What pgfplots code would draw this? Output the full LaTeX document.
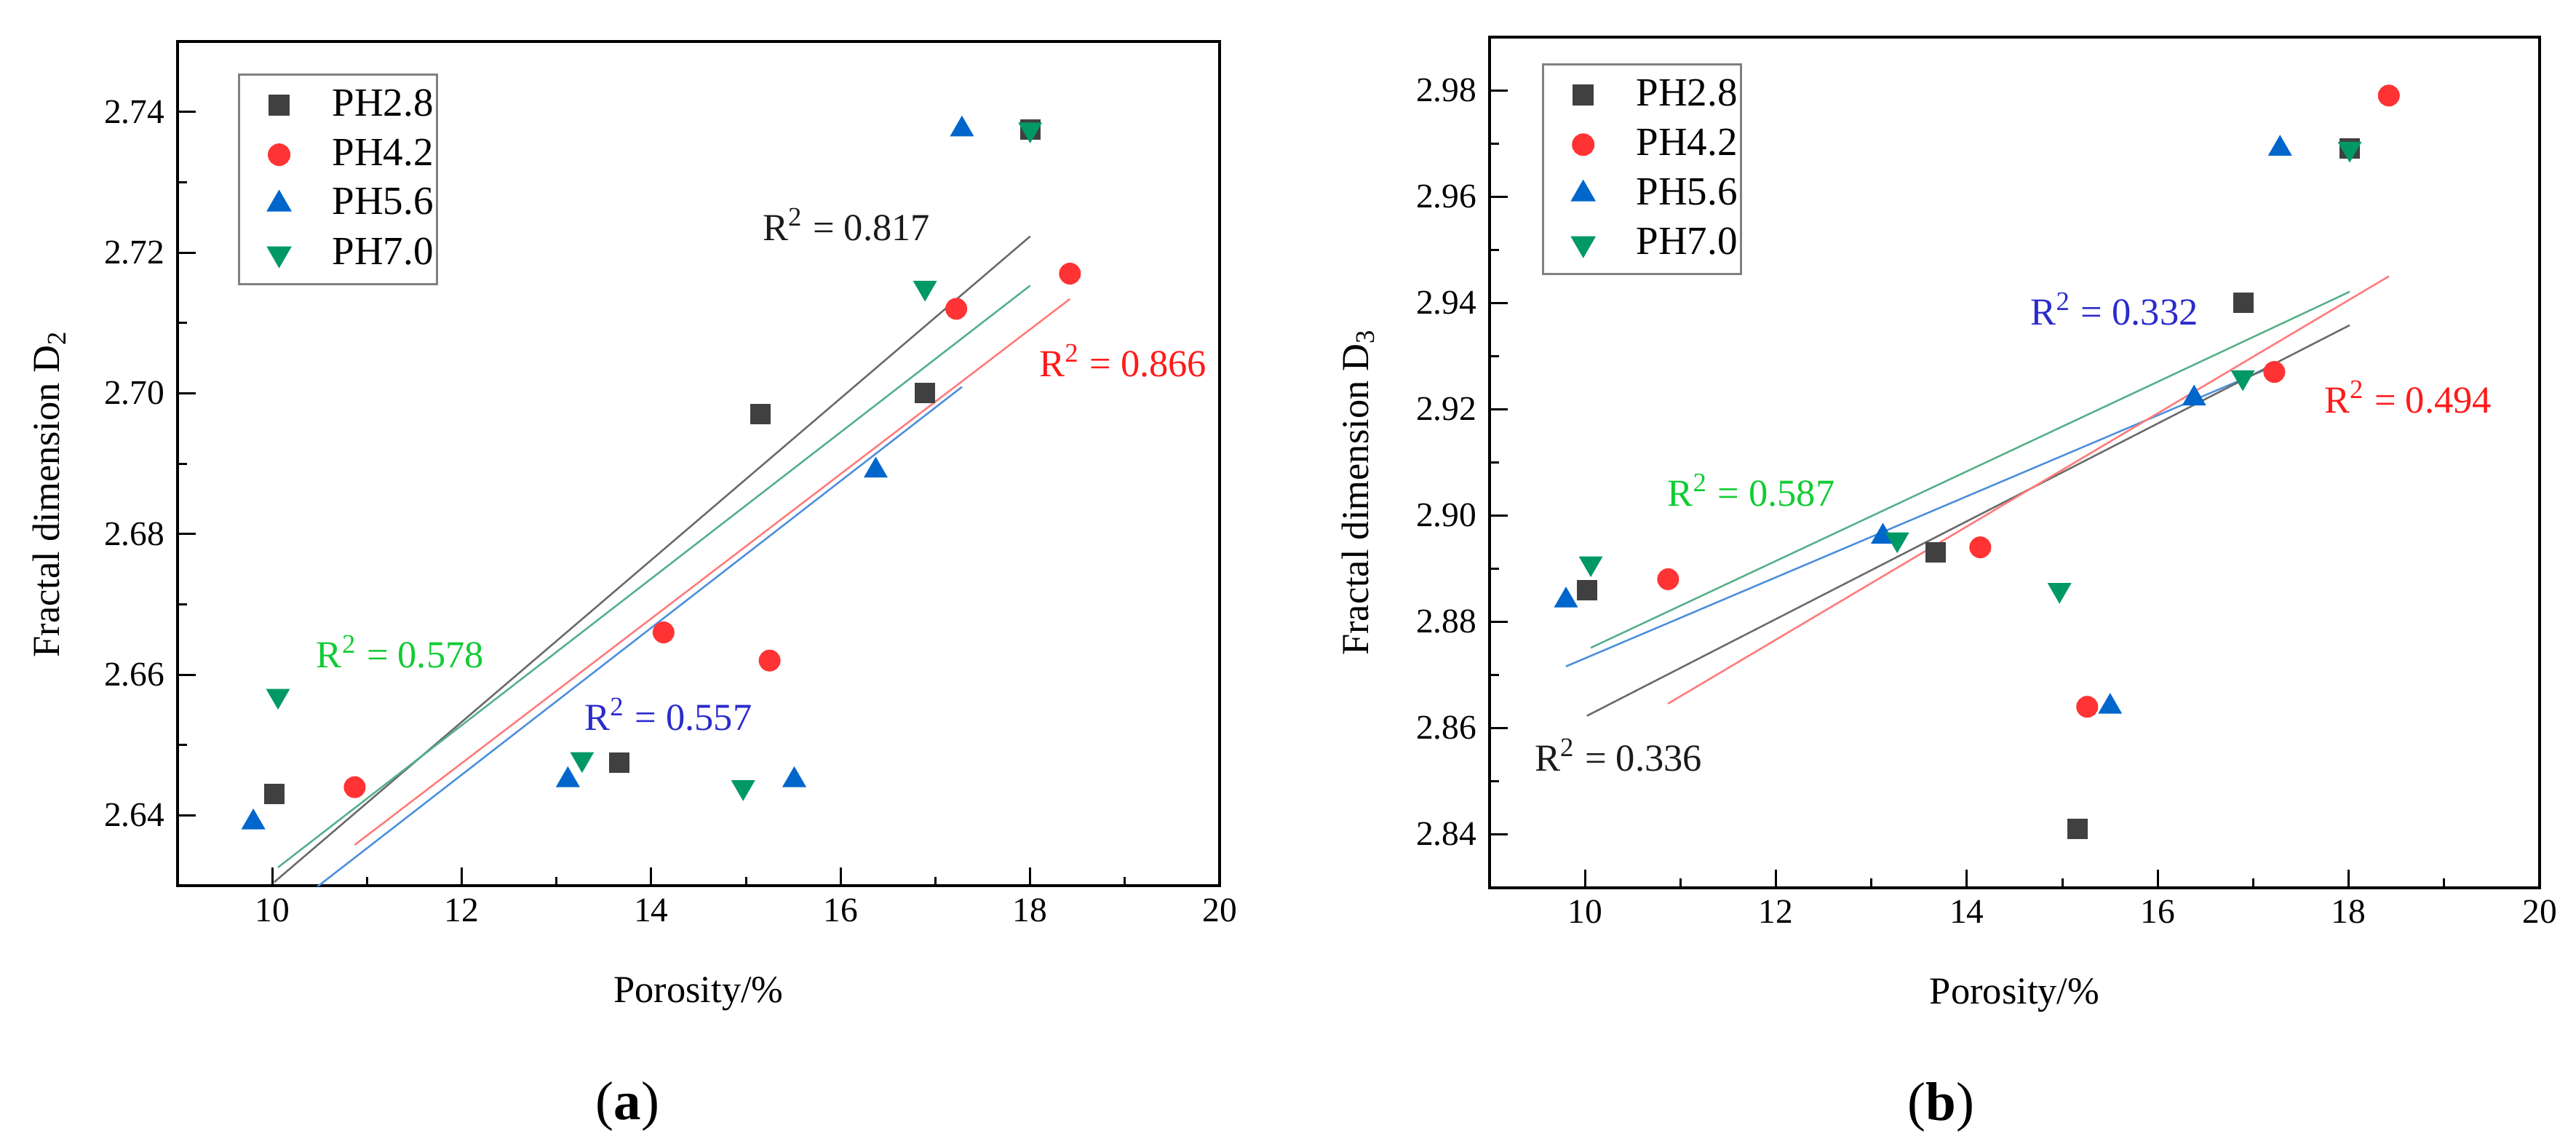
\documentclass[border=0pt]{standalone}
\usepackage{fontspec}
\setmainfont{Liberation Serif}
\usepackage{pgfplots}
\pgfplotsset{compat=1.18}

% marker colours
\definecolor{c28}{HTML}{404040}
\definecolor{c42}{HTML}{FF3333}
\definecolor{c56}{HTML}{0066CC}
\definecolor{c70}{HTML}{009966}
% fit line colours
\definecolor{l28}{HTML}{6A6A6A}
\definecolor{l42}{HTML}{FF7A7A}
\definecolor{l56}{HTML}{4D8FDD}
\definecolor{l70}{HTML}{55B08A}
% annotation colours
\definecolor{t28}{HTML}{1A1A1A}
\definecolor{t42}{HTML}{FF1A1A}
\definecolor{t56}{HTML}{2B2BCC}
\definecolor{t70}{HTML}{11CC33}

\pgfplotsset{
  poro/.style={
    scale only axis,
    anchor=south west,
    clip mode=individual,
    xmin=9, xmax=20,
    xtick={10,12,...,20},
    minor x tick num=1,
    minor y tick num=1,
    tick align=inside,
    xtick pos=left, ytick pos=left,
    major tick length=5pt, minor tick length=2.5pt,
    axis line style={line width=0.8pt},
    every tick/.style={black, line width=0.6pt},
    tick label style={font=\fontsize{9.5}{11}\selectfont},
    /pgf/number format/assume math mode=true,
    yticklabel style={/pgf/number format/.cd, fixed, fixed zerofill, precision=2},
    xlabel={Porosity/\%},
    label style={font=\fontsize{10.5}{12}\selectfont},
    legend style={draw=gray, line width=0.6pt, anchor=north west,
      font=\fontsize{11}{12}\selectfont, row sep=0.8pt,
      inner xsep=0pt, inner ysep=2pt,
      nodes={inner xsep=1pt, inner ysep=2pt}},
    legend cell align=left,
    % marker alone, with blank room either side as in the original legend
    legend image code/.code={%
      \draw[draw=none] (-11pt,0pt) -- (13.6pt,0pt);
      \draw[##1, only marks] plot coordinates {(0pt,0pt)};},
  },
  s28/.style={only marks, mark=square*, mark size=2.6pt, color=c28},
  s42/.style={only marks, mark=*, mark size=2.8pt, color=c42},
  s56/.style={only marks, mark=triangle*, mark size=3.4pt, color=c56},
  s70/.style={only marks, mark=triangle*, mark size=3.4pt, color=c70,
    mark options={rotate=180}},
  fit/.style={forget plot, line width=0.5pt},
}

\begin{document}
\begin{tikzpicture}
\useasboundingbox (0,0) rectangle (708pt,314.2pt);

% ---------------- (a) ----------------
\begin{axis}[poro,
  at={(48.8pt,70.8pt)},
  width=286.4pt, height=232pt,
  ymin=2.63, ymax=2.75,
  ytick={2.64,2.66,...,2.74},
  ylabel={Fractal dimension D\textsubscript{2}},
  ylabel style={at={(axis description cs:-0.123,0.464)}, anchor=center},
  xlabel style={at={(axis description cs:0.5,-0.128)}, anchor=center},
  legend style={at={(0.058,0.962)}},
]
\addplot[fit, l28] coordinates {(10.02,2.6305) (18.0,2.7223)};
\addplot[fit, l70] coordinates {(10.06,2.6326) (18.0,2.7153)};
\addplot[fit, l42] coordinates {(10.87,2.6358) (18.42,2.7134)};
\addplot[fit, l56] coordinates {(9.80,2.6228) (17.28,2.7009)};

\addplot[s28] coordinates {(10.02,2.643) (13.66,2.6475) (15.15,2.697) (16.89,2.700) (18.0,2.7375)};
\addlegendentry{PH2.8}
\addplot[s42] coordinates {(10.87,2.644) (14.13,2.666) (15.25,2.662) (17.22,2.712) (18.42,2.717)};
\addlegendentry{PH4.2}
\addplot[s56] coordinates {(9.80,2.639) (13.12,2.645) (15.51,2.645) (16.37,2.689) (17.28,2.7375)};
\addlegendentry{PH5.6}
\addplot[s70] coordinates {(10.06,2.657) (13.27,2.648) (14.97,2.644) (16.89,2.715) (18.0,2.7375)};
\addlegendentry{PH7.0}

\node[t28, font=\fontsize{10.5}{12}\selectfont] at (axis cs:16.06,2.724) {R\textsuperscript{2} = 0.817};
\node[t42, font=\fontsize{10.5}{12}\selectfont] at (axis cs:18.98,2.7046) {R\textsuperscript{2} = 0.866};
\node[t70, font=\fontsize{10.5}{12}\selectfont] at (axis cs:11.35,2.6632) {R\textsuperscript{2} = 0.578};
\node[t56, font=\fontsize{10.5}{12}\selectfont] at (axis cs:14.18,2.6543) {R\textsuperscript{2} = 0.557};

\node[font=\fontsize{15}{18}\selectfont] at (axis description cs:0.432,-0.262) {(\textbf{a})};
\end{axis}

% ---------------- (b) ----------------
\begin{axis}[poro,
  at={(409.4pt,70.3pt)},
  width=288.6pt, height=233.7pt,
  ymin=2.83, ymax=2.99,
  ytick={2.84,2.86,...,2.98},
  ylabel={Fractal dimension D\textsubscript{3}},
  ylabel style={at={(axis description cs:-0.125,0.465)}, anchor=center},
  xlabel style={at={(axis description cs:0.5,-0.127)}, anchor=center},
  legend style={at={(0.050,0.969)}},
]
\addplot[fit, l70] coordinates {(10.06,2.8751) (18.01,2.9421)};
\addplot[fit, l56] coordinates {(9.80,2.8716) (17.28,2.9286)};
\addplot[fit, l28] coordinates {(10.02,2.8623) (18.01,2.9358)};
\addplot[fit, l42] coordinates {(10.87,2.8646) (18.42,2.9450)};

\addplot[s28] coordinates {(10.02,2.886) (13.67,2.893) (15.16,2.841) (16.90,2.940) (18.01,2.969)};
\addlegendentry{PH2.8}
\addplot[s42] coordinates {(10.87,2.888) (14.14,2.894) (15.26,2.864) (17.22,2.927) (18.42,2.979)};
\addlegendentry{PH4.2}
\addplot[s56] coordinates {(9.80,2.884) (13.12,2.896) (15.50,2.864) (16.38,2.922) (17.28,2.969)};
\addlegendentry{PH5.6}
\addplot[s70] coordinates {(10.06,2.891) (13.27,2.8955) (14.97,2.886) (16.89,2.926) (18.01,2.969)};
\addlegendentry{PH7.0}

\node[t56, font=\fontsize{10.5}{12}\selectfont] at (axis cs:15.545,2.9388) {R\textsuperscript{2} = 0.332};
\node[t42, font=\fontsize{10.5}{12}\selectfont] at (axis cs:18.62,2.9223) {R\textsuperscript{2} = 0.494};
\node[t70, font=\fontsize{10.5}{12}\selectfont] at (axis cs:11.74,2.9047) {R\textsuperscript{2} = 0.587};
\node[t28, font=\fontsize{10.5}{12}\selectfont] at (axis cs:10.35,2.8549) {R\textsuperscript{2} = 0.336};

\node[font=\fontsize{15}{18}\selectfont] at (axis description cs:0.430,-0.258) {(\textbf{b})};
\end{axis}
\end{tikzpicture}
\end{document}
